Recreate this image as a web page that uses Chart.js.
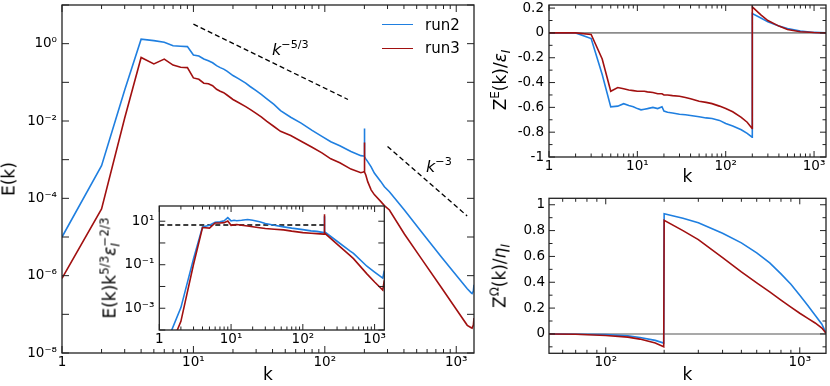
<!DOCTYPE html>
<html><head><meta charset="utf-8">
<script src="https://cdn.jsdelivr.net/npm/chart.js@4.4.1/dist/chart.umd.min.js"></script>
<style>
html,body{margin:0;padding:0;background:#fff;}
#wrap{position:relative;width:830px;height:386px;overflow:hidden;font-family:'DejaVu Sans',sans-serif;color:#000;}
canvas{position:absolute;left:0;top:0;}
.t{position:absolute;white-space:nowrap;line-height:1;}
.rot{transform:translate(-50%,-50%) rotate(-90deg);}
.sup{font-size:0.7em;position:relative;top:-0.6em;}
.sub{font-size:0.7em;position:relative;top:0.3em;}
.it{font-style:italic;}
.lg{position:absolute;height:0;border-top:1.6px solid;}
</style></head><body>
<div id="wrap">
<canvas id="cMain" width="830" height="386"></canvas>
<canvas id="cInset" width="830" height="386"></canvas>
<canvas id="cZE" width="830" height="386"></canvas>
<canvas id="cZO" width="830" height="386"></canvas>

<div class="t rot" style="left:9px;top:179px;font-size:17px">E(k)</div>
<div class="t" style="left:268px;top:365.6px;font-size:17px;transform:translateX(-50%)">k</div>
<div class="t" style="left:272px;top:41.5px;font-size:16px"><span class="it">k</span><span class="sup">−5/3</span></div>
<div class="t" style="left:426px;top:158.5px;font-size:16px"><span class="it">k</span><span class="sup">−3</span></div>
<div class="lg" style="left:382px;top:24.2px;width:31px;border-color:#1f7fe0"></div>
<div class="lg" style="left:382px;top:47.5px;width:31px;border-color:#a11010"></div>
<div class="t" style="left:425px;top:18.3px;font-size:15px">run2</div>
<div class="t" style="left:425px;top:41.3px;font-size:15px">run3</div>
<div class="t rot" style="left:110px;top:268px;font-size:17px">E(k)k<span class="sup">5/3</span><span class="it">ε</span><span class="sub it">I</span><span class="sup" style="margin-left:-0.3em">−2/3</span></div>
<div class="t rot" style="left:500px;top:80px;font-size:17px">Z<span class="sup">E</span>(k)/<span class="it">ε</span><span class="sub it">I</span></div>
<div class="t rot" style="left:500px;top:276px;font-size:17px">Z<span class="sup">Ω</span>(k)/<span class="it">η</span><span class="sub it">I</span></div>
<div class="t" style="left:687.5px;top:168px;font-size:17px;transform:translateX(-50%)">k</div>
<div class="t" style="left:687.5px;top:365.6px;font-size:17px;transform:translateX(-50%)">k</div>
</div>
<script>
// ---------------- data ----------------
const mainK = [1,2,3,4,5,6,7,8,9,10,11,12,13,14,15,16,17,18,20,22,25,27,30,33,36,41,46,55,66,80,95,111,130,158,188,196,199,200,201,205,212,225,238,267,284,310,403,541,768,1000,1213,1300,1320,1350,1365];
const run2E = [1.0e-5,7.0e-4,0.063,1.31,1.20,1.09,0.88,0.86,0.84,0.51,0.48,0.40,0.36,0.32,0.27,0.24,0.22,0.195,0.15,0.125,0.095,0.078,0.061,0.048,0.038,0.027,0.0185,0.0125,0.0088,0.0057,0.0040,0.0029,0.0023,0.00162,0.00127,0.00124,0.00125,0.0064,0.00120,0.00105,0.00089,0.00065,0.00045,0.00027,0.00020,0.000148,5.0e-5,1.38e-5,3.1e-6,1.02e-6,4.6e-7,3.6e-7,3.45e-7,4.0e-7,5.8e-7];
const run3E = [8.5e-7,5.3e-5,0.012,0.44,0.30,0.40,0.28,0.245,0.24,0.13,0.12,0.095,0.092,0.082,0.066,0.059,0.054,0.047,0.036,0.030,0.0235,0.020,0.0158,0.0126,0.0099,0.0072,0.0054,0.0042,0.0030,0.0021,0.0015,0.00105,0.00083,0.00057,0.00046,0.00048,0.00049,0.0028,0.00048,0.00040,0.00027,0.000166,0.000125,8.2e-5,6.5e-5,5.0e-5,1.2e-5,2.8e-6,5.0e-7,1.35e-7,5.2e-8,4.5e-8,4.4e-8,5.3e-8,8.0e-8];
const ref53K = [10,150];
const ref53E = [3.2,0.036];
const ref3K = [300,1210];
const ref3E = [2.2e-3,3.5e-5];

const insetK = [1,2,3,4,5,6,7,8,9,10,11,12,14,17,20,25,30,40,54,70,100,130,157,196,199,200,201,205,300,457,508,781,1000,1300,1365];
const run2C = [4e-6,1.07e-3,0.19,5.5,6.5,9.0,9.3,10.5,14.5,10.3,11,10.5,11,12,11,9.5,7.8,6.5,5.5,4.8,4.1,3.6,3.4,3.0,3.0,17,3.2,3.1,1.2,0.42,0.33,0.085,0.046,0.024,0.053];
const run3C = [1e-6,2.5e-4,0.105,5.1,4.8,8.3,8.3,8.6,10.3,6.5,6.8,7.0,6.5,6.0,5.6,5.0,4.6,4.3,4.0,3.5,3.0,2.8,2.7,2.55,2.55,21,2.7,2.7,0.88,0.26,0.19,0.038,0.016,0.0069,0.019];
const insetRefK = [1,200];
const insetRefC = [6.7,6.7];

const zeK = [1,2,3,4,5,6,7,8,9,10,11,12,13,15,17,19,20,22,25,30,35,40,50,60,70,85,100,120,150,175,199,200,250,300,400,500,700,1000,1365];
const run2ZE = [0,0,-0.045,-0.335,-0.596,-0.59,-0.57,-0.585,-0.595,-0.61,-0.62,-0.615,-0.61,-0.60,-0.61,-0.595,-0.63,-0.64,-0.645,-0.655,-0.66,-0.665,-0.675,-0.685,-0.69,-0.705,-0.73,-0.75,-0.78,-0.81,-0.84,0.156,0.12,0.089,0.055,0.035,0.016,0.004,0];
const run3ZE = [0,0,-0.013,-0.21,-0.47,-0.44,-0.45,-0.46,-0.465,-0.47,-0.47,-0.47,-0.475,-0.48,-0.49,-0.49,-0.50,-0.50,-0.505,-0.51,-0.52,-0.53,-0.55,-0.56,-0.57,-0.59,-0.61,-0.635,-0.68,-0.72,-0.77,0.21,0.145,0.10,0.055,0.027,0.009,0.003,0];

const zoK = [51,70,100,130,150,180,199,200,250,300,400,500,600,700,800,900,1000,1100,1200,1300,1365];
const run2ZO = [0,-0.002,-0.005,-0.015,-0.028,-0.05,-0.071,0.93,0.895,0.86,0.78,0.705,0.627,0.55,0.465,0.385,0.30,0.22,0.145,0.075,0.005];
const run3ZO = [0,-0.003,-0.012,-0.025,-0.04,-0.07,-0.10,0.88,0.80,0.73,0.59,0.48,0.395,0.325,0.262,0.207,0.16,0.12,0.085,0.045,0.005];

// ---------------- ticks ----------------
const logXTicks = [1,10,100,1000];
const logXLabels = ['1','10¹','10²','10³'];
const logXMinor = [2,3,4,5,6,7,8,9,20,30,40,50,60,70,80,90,200,300,400,500,600,700,800,900];
const mainYTicks = [1e-8,1e-7,1e-6,1e-5,1e-4,1e-3,1e-2,1e-1,1,10];
const mainYLabels = ['10⁻⁸','','10⁻⁶','','10⁻⁴','','10⁻²','','10⁰',''];
const insetYTicks = [1e-4,1e-3,1e-2,1e-1,1,10];
const insetYLabels = ['','10⁻³','','10⁻¹','','10¹'];
const zeYTicks = [-1,-0.8,-0.6,-0.4,-0.2,0,0.2];
const zeYLabels = ['-1','-0.8','-0.6','-0.4','-0.2','0','0.2'];
const zeYMinor = [-0.9,-0.7,-0.5,-0.3,-0.1,0.1];
const zoXTicks = [100,1000];
const zoXLabels = ['10²','10³'];
const zoXMinor = [60,70,80,90,200,300,400,500,600,700,800,900];
const zoYTicks = [0,0.2,0.4,0.6,0.8,1];
const zoYLabels = ['0','0.2','0.4','0.6','0.8','1'];
const zoYMinor = [-0.1,0.1,0.3,0.5,0.7,0.9];

// ---------------- styles ----------------
const BLUE = '#1f7fe0', RED = '#a11010';
const tickFont = {family:"'DejaVu Sans', sans-serif", size:13.5};
Chart.defaults.font.family = "'DejaVu Sans', sans-serif";

function pts(ks, vs){ return ks.map((k,i)=>({x:k, y:vs[i]})); }
function line(ks, vs, color, order){ return {data:pts(ks,vs), borderColor:color, borderWidth:1.6, pointRadius:0, fill:false, tension:0, order:order}; }
function dashed(ks, vs){ return {data:pts(ks,vs), borderColor:'#000', borderWidth:1.3, borderDash:[5,3], pointRadius:0, fill:false, tension:0, order:2}; }

let decoId = 0;
function makeDeco(d){
  return {
    id: 'deco' + (decoId++),
    beforeDraw(chart){
      if (!d.bg) return;
      const a = chart.chartArea, ctx = chart.ctx;
      ctx.save(); ctx.fillStyle = d.bg; ctx.fillRect(a.left, a.top, a.right-a.left, a.bottom-a.top); ctx.restore();
    },
    beforeDatasetsDraw(chart){
      if (!d.zero) return;
      const a = chart.chartArea, ctx = chart.ctx, y = chart.scales.y.getPixelForValue(0);
      ctx.save(); ctx.strokeStyle = '#8c8c8c'; ctx.lineWidth = 1.6;
      ctx.beginPath(); ctx.moveTo(a.left, y); ctx.lineTo(a.right, y); ctx.stroke(); ctx.restore();
    },
    afterDatasetsDraw(chart){
      const a = chart.chartArea, ctx = chart.ctx, x = chart.scales.x, y = chart.scales.y;
      ctx.save();
      ctx.strokeStyle = '#222'; ctx.lineWidth = 1;
      ctx.beginPath();
      const vx = (arr, len) => arr.forEach(v => { const p = x.getPixelForValue(v); if (p < a.left-0.5 || p > a.right+0.5) return; ctx.moveTo(p, a.bottom); ctx.lineTo(p, a.bottom-len); ctx.moveTo(p, a.top); ctx.lineTo(p, a.top+len); });
      const vy = (arr, len) => arr.forEach(v => { const p = y.getPixelForValue(v); if (p < a.top-0.5 || p > a.bottom+0.5) return; ctx.moveTo(a.left, p); ctx.lineTo(a.left+len, p); ctx.moveTo(a.right, p); ctx.lineTo(a.right-len, p); });
      vx(d.xMajor, d.major); vx(d.xMinor || [], d.minor);
      vy(d.yMajor, d.major); vy(d.yMinor || [], d.minor);
      ctx.stroke();
      ctx.lineWidth = 1.3;
      ctx.strokeRect(a.left, a.top, a.right-a.left, a.bottom-a.top);
      ctx.restore();
    }
  };
}

function makeChart(id, c){
  const zeroPad = s => { s.paddingLeft = 0; s.paddingRight = 0; s.paddingTop = 0; s.paddingBottom = 0; };
  return new Chart(document.getElementById(id), {
    type: 'line',
    data: {datasets: c.datasets},
    options: {
      responsive:false, maintainAspectRatio:false, animation:false, devicePixelRatio:1, events:[],
      layout: {padding: c.padding},
      plugins: {legend:{display:false}, tooltip:{enabled:false}},
      scales: {
        x: {
          type: c.xType, min: c.xMin, max: c.xMax, bounds:'data',
          afterFit: s => { s.height = c.xHeight; zeroPad(s); },
          afterBuildTicks: s => { s.ticks = c.xTicks.map(v => ({value:v})); },
          ticks: {callback: (v,i) => c.xLabels[i], autoSkip:false, maxRotation:0, minRotation:0, padding:c.xPad, color:'#000', font:tickFont},
          grid: {display:false, drawTicks:false}, border: {display:false}
        },
        y: {
          type: c.yType, min: c.yMin, max: c.yMax, bounds:'data',
          afterFit: s => { s.width = c.yWidth; zeroPad(s); },
          afterBuildTicks: s => { s.ticks = c.yTicks.map(v => ({value:v})); },
          ticks: {callback: (v,i) => c.yLabels[i], autoSkip:false, padding:c.yPad, color:'#000', font:tickFont},
          grid: {display:false, drawTicks:false}, border: {display:false}
        }
      }
    },
    plugins: [makeDeco(c.deco)]
  });
}

// main: area left 62, top 5, right 474, bottom 353
makeChart('cMain', {
  datasets: [line(mainK, run3E, RED, 0), line(mainK, run2E, BLUE, 1), dashed(ref53K, ref53E), dashed(ref3K, ref3E)],
  padding: {left:0, top:5, right:356, bottom:0},
  xType:'logarithmic', xMin:1, xMax:1365, xHeight:33, xTicks:logXTicks, xLabels:logXLabels, xPad:1.5,
  yType:'logarithmic', yMin:1e-8, yMax:10, yWidth:62, yTicks:mainYTicks, yLabels:mainYLabels, yPad:5,
  deco: {xMajor:logXTicks, xMinor:logXMinor, yMajor:mainYTicks, major:7, minor:4}
});

// inset: area left 159.3, top 206, right 384.3, bottom 330
makeChart('cInset', {
  datasets: [line(insetK, run3C, RED, 0), line(insetK, run2C, BLUE, 1), dashed(insetRefK, insetRefC)],
  padding: {left:100, top:206, right:445.7, bottom:0},
  xType:'logarithmic', xMin:1, xMax:1365, xHeight:56, xTicks:logXTicks, xLabels:logXLabels, xPad:1,
  yType:'logarithmic', yMin:1e-4, yMax:50, yWidth:59.3, yTicks:insetYTicks, yLabels:insetYLabels, yPad:5,
  deco: {bg:'#fff', xMajor:logXTicks, xMinor:logXMinor, yMajor:insetYTicks, major:6, minor:3.5}
});

// Z^E: area left 549, top 5, right 826, bottom 157
makeChart('cZE', {
  datasets: [line(zeK, run3ZE, RED, 0), line(zeK, run2ZE, BLUE, 1)],
  padding: {left:500, top:5, right:4, bottom:199},
  xType:'logarithmic', xMin:1, xMax:1365, xHeight:30, xTicks:logXTicks, xLabels:logXLabels, xPad:1.5,
  yType:'linear', yMin:-1, yMax:0.225, yWidth:49, yTicks:zeYTicks, yLabels:zeYLabels, yPad:5,
  deco: {zero:true, xMajor:logXTicks, xMinor:logXMinor, yMajor:zeYTicks, yMinor:zeYMinor, major:6, minor:3.5}
});

// Z^Omega: area left 549, top 198.3, right 826, bottom 353.3
makeChart('cZO', {
  datasets: [line(zoK, run3ZO, RED, 0), line(zoK, run2ZO, BLUE, 1)],
  padding: {left:500, top:198.3, right:4, bottom:0},
  xType:'logarithmic', xMin:51, xMax:1365, xHeight:32.7, xTicks:zoXTicks, xLabels:zoXLabels, xPad:1.5,
  yType:'linear', yMin:-0.15, yMax:1.05, yWidth:49, yTicks:zoYTicks, yLabels:zoYLabels, yPad:4,
  deco: {zero:true, xMajor:zoXTicks, xMinor:zoXMinor, yMajor:zoYTicks, yMinor:zoYMinor, major:6, minor:3.5}
});
</script>
</body></html>
